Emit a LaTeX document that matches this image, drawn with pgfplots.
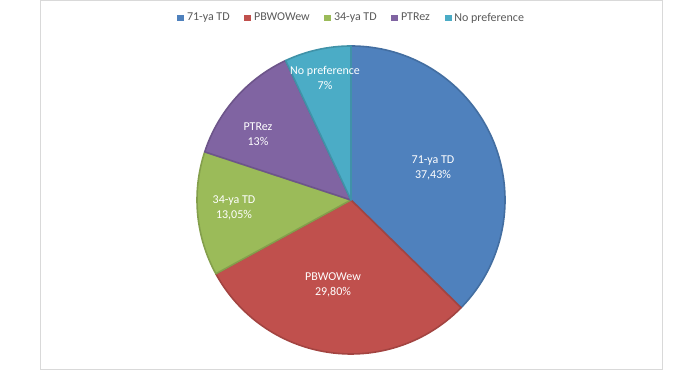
\documentclass[border=0pt]{standalone}
\usepackage{pgfplots}
\usepackage{pgfplotstable}
\pgfplotsset{compat=1.18}
\usepackage{fontspec}
\setmainfont{Carlito}
\definecolor{c0}{HTML}{4F81BD}
\definecolor{c1}{HTML}{C0504D}
\definecolor{c2}{HTML}{9BBB59}
\definecolor{c3}{HTML}{8064A2}
\definecolor{c4}{HTML}{4BACC6}
\definecolor{legtext}{HTML}{595959}
\definecolor{frame}{HTML}{D9D9D9}

\pgfplotstableread[col sep=semicolon]{
name;value;pct;lx;ly
71-ya TD;37.43;37,43;433;202
PBWOWew;29.80;29,80;333;85
34-ya TD;13.05;13,05;234;162
PTRez;13;13;258;236
No preference;7;7;325;292
}\piedata

\gdef\total{0}
\gdef\cum{0}
\foreach \i in {0,...,4}{%
  \pgfplotstablegetelem{\i}{value}\of\piedata
  \pgfmathsetmacro\tmp{\total+\pgfplotsretval}%
  \xdef\total{\tmp}%
}
\foreach \i in {0,...,4}{%
  \pgfplotstablegetelem{\i}{value}\of\piedata
  \pgfmathsetmacro\sa{90-(360/\total)*\cum}%
  \pgfmathsetmacro\tmp{\cum+\pgfplotsretval}%
  \xdef\cum{\tmp}%
  \pgfmathsetmacro\ea{90-(360/\total)*\cum}%
  \expandafter\xdef\csname pieS\i\endcsname{\sa}%
  \expandafter\xdef\csname pieE\i\endcsname{\ea}%
  \pgfplotstablegetelem{\i}{name}\of\piedata
  \expandafter\xdef\csname pieN\i\endcsname{\pgfplotsretval}%
  \pgfplotstablegetelem{\i}{pct}\of\piedata
  \expandafter\xdef\csname pieP\i\endcsname{\pgfplotsretval}%
  \pgfplotstablegetelem{\i}{lx}\of\piedata
  \expandafter\xdef\csname pieX\i\endcsname{\pgfplotsretval}%
  \pgfplotstablegetelem{\i}{ly}\of\piedata
  \expandafter\xdef\csname pieY\i\endcsname{\pgfplotsretval}%
}

\begin{document}
\begin{tikzpicture}
\begin{axis}[
  scale only axis, width=525pt, height=277.5pt,
  xmin=0, xmax=700, ymin=0, ymax=370,
  hide axis, clip=false,
  legend columns=5,
  legend style={at={(axis cs:352,352)}, anchor=center, draw=none, fill=none,
    font=\fontsize{9}{11}\selectfont, text=legtext, inner sep=0pt,
    /tikz/every even column/.append style={column sep=9pt}},
  legend image code/.code={\fill (0pt,-2.6pt) rectangle (5.25pt,2.6pt);},
]
\path (axis cs:0,0) rectangle (axis cs:700,370);
\draw[frame, line width=0.75pt] (axis cs:40.5,0.5) rectangle (axis cs:662,369.5);
\pgfplotsinvokeforeach{0,...,4}{
  \filldraw[fill=c#1, draw=c#1!85!black, line width=1.2pt, line join=round]
    (axis cs:351,170) -- ++(\csname pieS#1\endcsname:115.5pt)
    arc[start angle=\csname pieS#1\endcsname, end angle=\csname pieE#1\endcsname, radius=115.5pt] -- cycle;
  \addlegendimage{fill=c#1, draw=none}
  \addlegendentry{\csname pieN#1\endcsname}
}
\pgfplotsinvokeforeach{0,...,4}{
  \node[white, align=center, font=\fontsize{9}{11.5}\selectfont]
    at (axis cs:\csname pieX#1\endcsname,\csname pieY#1\endcsname)
    {\csname pieN#1\endcsname\\\csname pieP#1\endcsname\%};
}
\end{axis}
\end{tikzpicture}
\end{document}
